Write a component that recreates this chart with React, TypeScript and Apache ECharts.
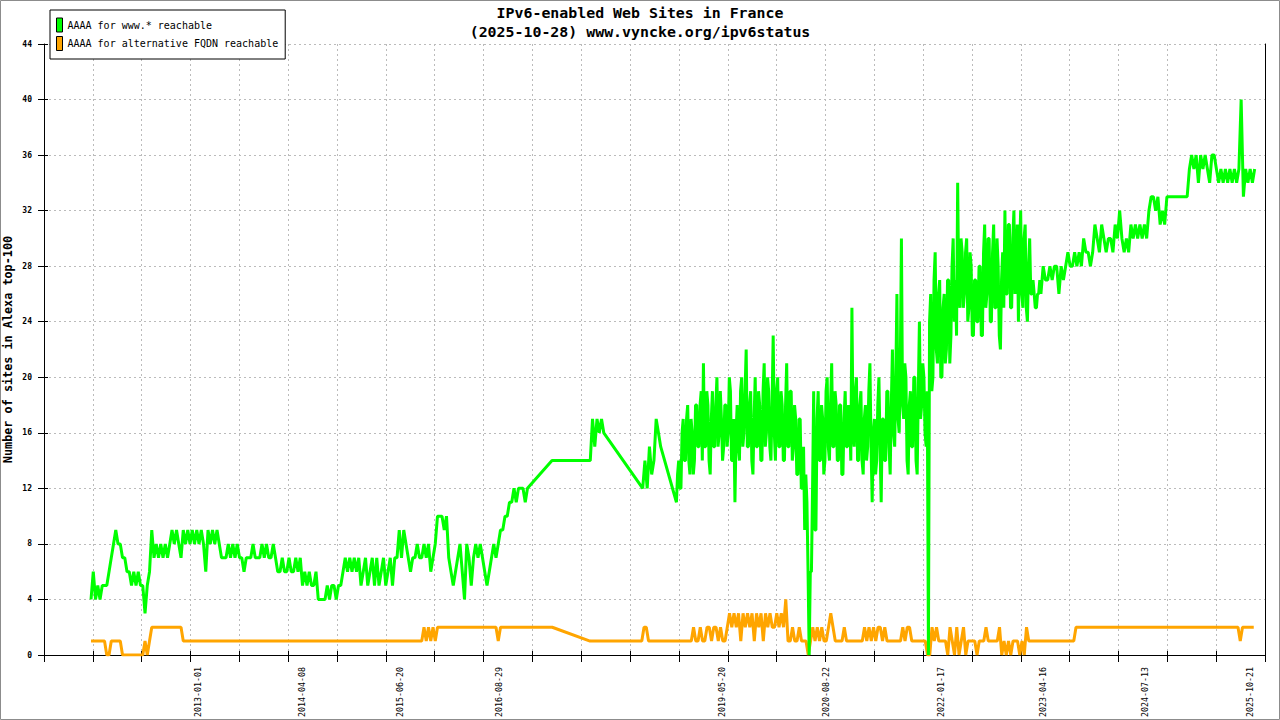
import React, { useEffect, useRef } from 'react';
import * as echarts from 'echarts';

const MONO = '"DejaVu Sans Mono", "Liberation Mono", monospace';
const DAY = 86400000;

// x axis range and labels
const axisStart = '2011-01-30';
const axisEnd = '2025-12-09';
const tickIntervals = 25;
const dateLabels = [
  '2013-01-01', '2014-04-08', '2015-06-20', '2016-08-29', '2019-05-20',
  '2020-08-22', '2022-01-17', '2023-04-16', '2024-07-13', '2025-10-21',
];

const titleLine1 = 'IPv6-enabled Web Sites in France';
const titleLine2 = '(2025-10-28) www.vyncke.org/ipv6status';
const wwwName = 'AAAA for www.* reachable';
const altName = 'AAAA for alternative FQDN reachable';

// AAAA for www.* reachable, in runs of evenly spaced samples
// (gaps in the data show up as straight lines between runs)
const wwwStartA = '2011-08-27'; // every 10 days
const wwwA = [
  4, 6, 4, 5, 4, 5, 5, 5, 6, 7,
  8, 9, 8, 8, 7, 7, 6, 6, 5, 6,
  5, 6, 5, 5, 3, 5, 6, 9, 7, 8,
  7, 8, 7, 8, 7, 8, 9, 8, 9, 8,
  7, 9, 8, 9, 8, 9, 8, 9, 8, 9,
  8, 6, 9, 8, 9, 8, 9, 8, 7, 7,
  7, 8, 7, 8, 7, 8, 7, 7, 6, 7,
  7, 7, 8, 7, 7, 7, 8, 7, 8, 7,
  7, 8, 7, 6, 6, 7, 6, 6, 7, 6,
  6, 7, 6, 7, 5, 6, 5, 6, 5, 5,
  6, 4, 4, 4, 4, 5, 4, 5, 5, 4,
  5, 5, 6, 7, 6, 7, 6, 7, 6, 7,
  5, 6, 7, 5, 6, 7, 5, 7, 5, 6,
  7, 5, 6, 7, 5, 7, 7, 9, 7, 9,
  8, 7, 6, 7, 7, 8, 7, 7, 8, 7,
  8, 6, 7, 8, 10, 10, 10, 9, 10, 7,
  6, 5, 6, 7, 8, 6, 4, 8, 7, 5,
  7, 8, 7, 8, 7, 6, 5, 6, 7, 8,
  7, 8, 9, 9, 10, 10, 11, 11, 12, 11,
  12, 12, 12, 11, 12,
];
const wwwStartB = '2017-04-06'; // every 10 days
const wwwB = [
  14, 14, 14, 14, 14, 14, 14, 14, 14, 14,
  14, 14, 14, 14, 14, 14, 14, 14, 17, 15,
  17, 16, 17, 16,
];
const wwwStartC = '2018-05-14'; // every 10 days
const wwwC = [12, 14, 12, 15, 13, 14, 17, 16, 15];
const wwwStartD = '2018-10-11'; // every 5 days (noisy period)
const wwwD = [
  11, 13, 14, 12, 12, 16, 17, 14, 14, 17, 18, 14, 13, 17, 16, 13, 14, 18, 18, 15,
  15, 18, 19, 14, 21, 15, 15, 19, 18, 14, 13, 17, 19, 15, 15, 18, 20, 15, 16, 19,
  17, 14, 15, 18, 18, 15, 16, 20, 19, 14, 14, 17, 11, 16, 18, 15, 14, 19, 20, 15,
  16, 19, 22, 15, 15, 18, 19, 14, 13, 17, 20, 15, 15, 19, 18, 14, 14, 19, 21, 15,
  16, 20, 19, 15, 14, 18, 23, 16, 14, 19, 20, 15, 15, 19, 18, 14, 14, 18, 21, 15,
  15, 19, 19, 14, 15, 18, 17, 13, 13, 17, 17, 12, 12, 15, 9, 13, 11, 6, 0, 6,
  6, 12, 19, 9, 9, 17, 19, 14, 14, 18, 17, 13, 14, 19, 20, 15, 14, 18, 21, 15,
  15, 19, 18, 14, 14, 18, 18, 13, 13, 17, 19, 15, 15, 18, 17, 14, 25, 16, 15, 19,
  20, 14, 14, 18, 19, 14, 13, 17, 18, 14, 15, 19, 21, 15, 11, 16, 17, 13, 14, 18,
  20, 15, 11, 17, 17, 14, 14, 19, 19, 15, 13, 18, 22, 16, 15, 20, 26, 17, 16, 21,
  30, 18, 17, 21, 20, 14, 13, 18, 19, 15, 15, 20, 20, 14, 13, 19, 24, 17, 18, 21,
  20, 16, 15, 19, 0, 24, 26, 19, 20, 27, 29, 22, 21, 26, 27, 20, 20, 25, 26, 21,
  22, 27, 27, 21, 23, 28, 30, 24, 27, 23, 34, 26, 25, 30, 29, 25, 26, 29, 30, 24,
  25, 29, 28, 23, 23, 27, 27, 24, 24, 28, 28, 23, 23, 29, 31, 25, 26, 30, 30, 24,
  24, 29, 31, 25, 25, 30, 28, 23, 22, 27, 29, 25, 32, 26, 26, 31, 31, 25, 25, 30,
  32, 26, 27, 31, 24, 29, 32, 26, 25, 30, 31, 25, 24, 28, 30, 26, 26, 27, 26, 25,
  25, 26, 26, 27, 26, 27,
];
const wwwStartE = '2023-03-29'; // every 10 days
const wwwE = [
  28, 27, 27, 28, 27, 28, 28,
  26, 28, 27, 28, 29, 28, 28, 29, 28, 29,
  28, 30, 29, 29, 28, 29, 31, 30, 29, 31,
  30, 29, 30, 30, 29, 31, 30, 32, 30, 29,
  30, 29, 31, 30, 31, 30, 31, 30, 31, 30,
  32, 33, 33, 32, 33, 31, 32, 31, 33, 33,
  33, 33, 33, 33, 33, 33, 33, 33, 35, 36,
  35, 36, 34, 36, 35, 36, 35, 34, 36, 36,
  35, 34, 35, 34, 35, 34, 35, 34, 35, 34,
  35, 40, 33, 35, 34, 35, 34, 35,
];

// AAAA for alternative FQDN reachable
const altStartA = '2011-08-27'; // every 10 days
const altA = [
  1, 1, 1, 1, 1, 1, 1, 0, 0, 1,
  1, 1, 1, 1, 0, 0, 0, 0, 0, 0,
  0, 0, 0, 0, 1, 0, 1, 2, 2, 2,
  2, 2, 2, 2, 2, 2, 2, 2, 2, 2,
  2, 1, 1, 1, 1, 1, 1, 1, 1, 1,
  1, 1, 1, 1, 1, 1, 1, 1, 1, 1,
  1, 1, 1, 1, 1, 1, 1, 1, 1, 1,
  1, 1, 1, 1, 1, 1, 1, 1, 1, 1,
  1, 1, 1, 1, 1, 1, 1, 1, 1, 1,
  1, 1, 1, 1, 1, 1, 1, 1, 1, 1,
  1, 1, 1, 1, 1, 1, 1, 1, 1, 1,
  1, 1, 1, 1, 1, 1, 1, 1, 1, 1,
  1, 1, 1, 1, 1, 1, 1, 1, 1, 1,
  1, 1, 1, 1, 1, 1, 1, 1, 1, 1,
  1, 1, 1, 1, 1, 1, 1, 1, 2, 1,
  2, 1, 2, 1, 2, 2, 2, 2, 2, 2,
  2, 2, 2, 2, 2, 2, 2, 2, 2, 2,
  2, 2, 2, 2, 2, 2, 2, 2, 2, 2,
  2, 1, 2, 2, 2, 2, 2, 2, 2, 2,
  2, 2, 2, 2, 2, 2, 2, 2, 2, 2,
  2, 2, 2, 2, 2, 2,
];
const altStartB = '2017-09-22'; // every 10 days
const altB = [
  1, 1, 1, 1, 1, 1, 1, 1, 1, 1,
  1, 1, 1, 1, 1, 1, 1, 1, 1, 1,
  1, 1, 1, 1, 2, 2, 1, 1, 1, 1,
  1, 1, 1, 1, 1, 1, 1, 1, 1, 1,
  1, 1, 1, 1, 1, 1, 2, 1, 1, 2,
  1, 1, 2, 2, 1, 2, 2, 1, 2, 1,
  1, 2, 3, 2, 3, 2, 3, 1, 3, 2,
  3, 2, 3, 1, 3, 2, 3, 1, 3, 2,
  3, 2, 2, 3, 2, 3, 2, 4, 1, 1,
  2, 1, 1, 2, 1, 1, 1, 0, 1, 2,
  1, 2, 1, 2, 1, 1, 2, 3, 2, 1,
  1, 1, 1, 2, 1, 1, 1, 1, 1, 1,
  1, 1, 2, 1, 2, 1, 2, 1, 2, 2,
  1, 2, 1, 1, 1, 1, 1, 1, 1, 2,
  1, 2, 2, 1, 1, 1, 1, 1, 1, 1,
  0, 0, 2, 1, 2, 1, 1, 1, 1, 0,
  2, 1, 0, 2, 0, 1, 2, 0, 1, 1,
  1, 1, 0, 1, 1, 1, 2, 1, 1, 1,
  1, 1, 2, 0, 1, 0, 1, 0, 1, 1,
  1, 0, 1, 0, 2, 1, 1, 1, 1, 1,
  1, 1, 1, 1, 1, 1, 1, 1, 1, 1,
  1, 1, 1, 1, 1, 1, 2, 2, 2, 2,
  2, 2, 2, 2, 2, 2, 2, 2, 2, 2,
  2, 2, 2, 2, 2, 2, 2, 2, 2, 2,
  2, 2, 2, 2, 2, 2, 2, 2, 2, 2,
  2, 2, 2, 2, 2, 2, 2, 2, 2, 2,
  2, 2, 2, 2, 2, 2, 2, 2, 2, 2,
  2, 2, 2, 2, 2, 2, 2, 2, 2, 2,
  2, 2, 2, 2, 2, 2, 2, 2, 2, 1,
  2, 2, 2, 2, 2, 2,
];

const toPoints = (start: string, stepDays: number, values: number[]) => {
  const t0 = Date.parse(start);
  return values.map((v, i) => [t0 + i * stepDays * DAY, v]);
};

const App: React.FC = () => {
  const chartRef = useRef<HTMLDivElement>(null);

  useEffect(() => {
    const chart = echarts.init(chartRef.current!, undefined, { renderer: 'svg' });

    const xMin = Date.parse(axisStart);
    const xMax = Date.parse(axisEnd);
    const tickValues: number[] = [];
    for (let k = 0; k <= tickIntervals; k++) {
      tickValues.push(xMin + ((xMax - xMin) * k) / tickIntervals);
    }
    const labelValues = dateLabels.map((d) => Date.parse(d));

    const wwwData = [
      ...toPoints(wwwStartA, 10, wwwA),
      ...toPoints(wwwStartB, 10, wwwB),
      ...toPoints(wwwStartC, 10, wwwC),
      ...toPoints(wwwStartD, 5, wwwD),
      ...toPoints(wwwStartE, 10, wwwE),
    ];
    const altData = [...toPoints(altStartA, 10, altA), ...toPoints(altStartB, 10, altB)];

    const titleStyle = {
      fontFamily: MONO,
      fontSize: 14.9,
      fontWeight: 'bold',
      color: '#000',
      lineHeight: 18,
    };

    const gridLine = { color: '#bbbbbb', width: 1, type: [2, 3] };

    const options = {
      animation: false,
      backgroundColor: '#ffffff',
      textStyle: { fontFamily: MONO },
      title: [
        { text: titleLine1, left: 'center', top: 4, padding: 0, textStyle: titleStyle },
        { text: titleLine2, left: 'center', top: 23, padding: 0, textStyle: titleStyle },
      ],
      legend: {
        orient: 'vertical',
        left: 50,
        top: 10,
        padding: [7.5, 7, 8, 6],
        itemGap: 3.5,
        itemWidth: 6,
        itemHeight: 14,
        icon: 'rect',
        symbolKeepAspect: false,
        borderColor: '#000',
        borderWidth: 1,
        borderRadius: 0,
        backgroundColor: '#fff',
        itemStyle: { borderColor: '#000', borderWidth: 1 },
        textStyle: { fontFamily: MONO, fontSize: 10, color: '#000' },
        data: [wwwName, altName],
      },
      grid: { left: 44, top: 44, right: 15, bottom: 65, outerBoundsMode: 'none' },
      xAxis: [
        {
          type: 'value',
          min: xMin,
          max: xMax,
          axisLine: { show: true, lineStyle: { color: '#000', width: 1 } },
          axisTick: {
            show: true,
            length: 7,
            customValues: tickValues,
            lineStyle: { color: '#000', width: 1 },
          },
          axisLabel: {
            show: true,
            rotate: 90,
            margin: 12,
            verticalAlign: 'bottom',
            customValues: labelValues,
            fontFamily: MONO,
            fontSize: 8.3,
            color: '#000',
            formatter: (v: number) => new Date(v).toISOString().slice(0, 10),
          },
          splitLine: { show: true, lineStyle: gridLine },
        },
        {
          type: 'value',
          min: xMin,
          max: xMax,
          position: 'bottom',
          axisLine: { show: false },
          axisTick: {
            show: true,
            inside: true,
            length: 4,
            customValues: tickValues,
            lineStyle: { color: '#000', width: 1 },
          },
          axisLabel: { show: false },
          splitLine: { show: false },
        },
      ],
      yAxis: [
        {
          type: 'value',
          min: 0,
          max: 44,
          interval: 4,
          name: 'Number of sites in Alexa top-100',
          nameLocation: 'middle',
          nameGap: 30,
          nameMoveOverlap: false,
          nameTextStyle: {
            fontFamily: MONO,
            fontSize: 11.8,
            fontWeight: 'bold',
            color: '#000',
          },
          axisLine: { show: true, lineStyle: { color: '#000', width: 1 } },
          axisTick: { show: true, length: 6, lineStyle: { color: '#000', width: 1 } },
          axisLabel: {
            margin: 12,
            fontFamily: MONO,
            fontSize: 8,
            fontWeight: 'bold',
            color: '#000',
          },
          splitLine: { show: true, lineStyle: gridLine },
        },
        {
          type: 'value',
          min: 0,
          max: 44,
          interval: 4,
          position: 'left',
          axisLine: { show: false },
          axisTick: { show: true, inside: true, length: 4, lineStyle: { color: '#000', width: 1 } },
          axisLabel: { show: false },
          splitLine: { show: false },
        },
        {
          type: 'value',
          min: 0,
          max: 44,
          interval: 4,
          position: 'right',
          axisLine: { show: true, lineStyle: { color: '#000', width: 1 } },
          axisTick: { show: false },
          axisLabel: { show: false },
          splitLine: { show: false },
        },
      ],
      series: [
        {
          name: wwwName,
          type: 'line',
          data: wwwData,
          showSymbol: false,
          symbol: 'none',
          color: '#00ff00',
          lineStyle: { color: '#00ff00', width: 3 },
          z: 3,
        },
        {
          name: altName,
          type: 'line',
          data: altData,
          showSymbol: false,
          symbol: 'none',
          color: '#ffa500',
          lineStyle: { color: '#ffa500', width: 3 },
          z: 2,
        },
      ],
      graphic: [
        {
          type: 'rect',
          shape: { x: 0.5, y: 0.5, width: 1279, height: 719 },
          style: { fill: 'none', stroke: '#8c8c8c', lineWidth: 1 },
          silent: true,
          z: 100,
        },
      ],
    };

    chart.setOption(options);

    return () => {
      chart.dispose();
    };
  }, []);

  return (
    <div
      ref={chartRef}
      style={{ position: 'absolute', left: 0, top: 0, width: '1280px', height: '720px' }}
    ></div>
  );
};

export default App;
